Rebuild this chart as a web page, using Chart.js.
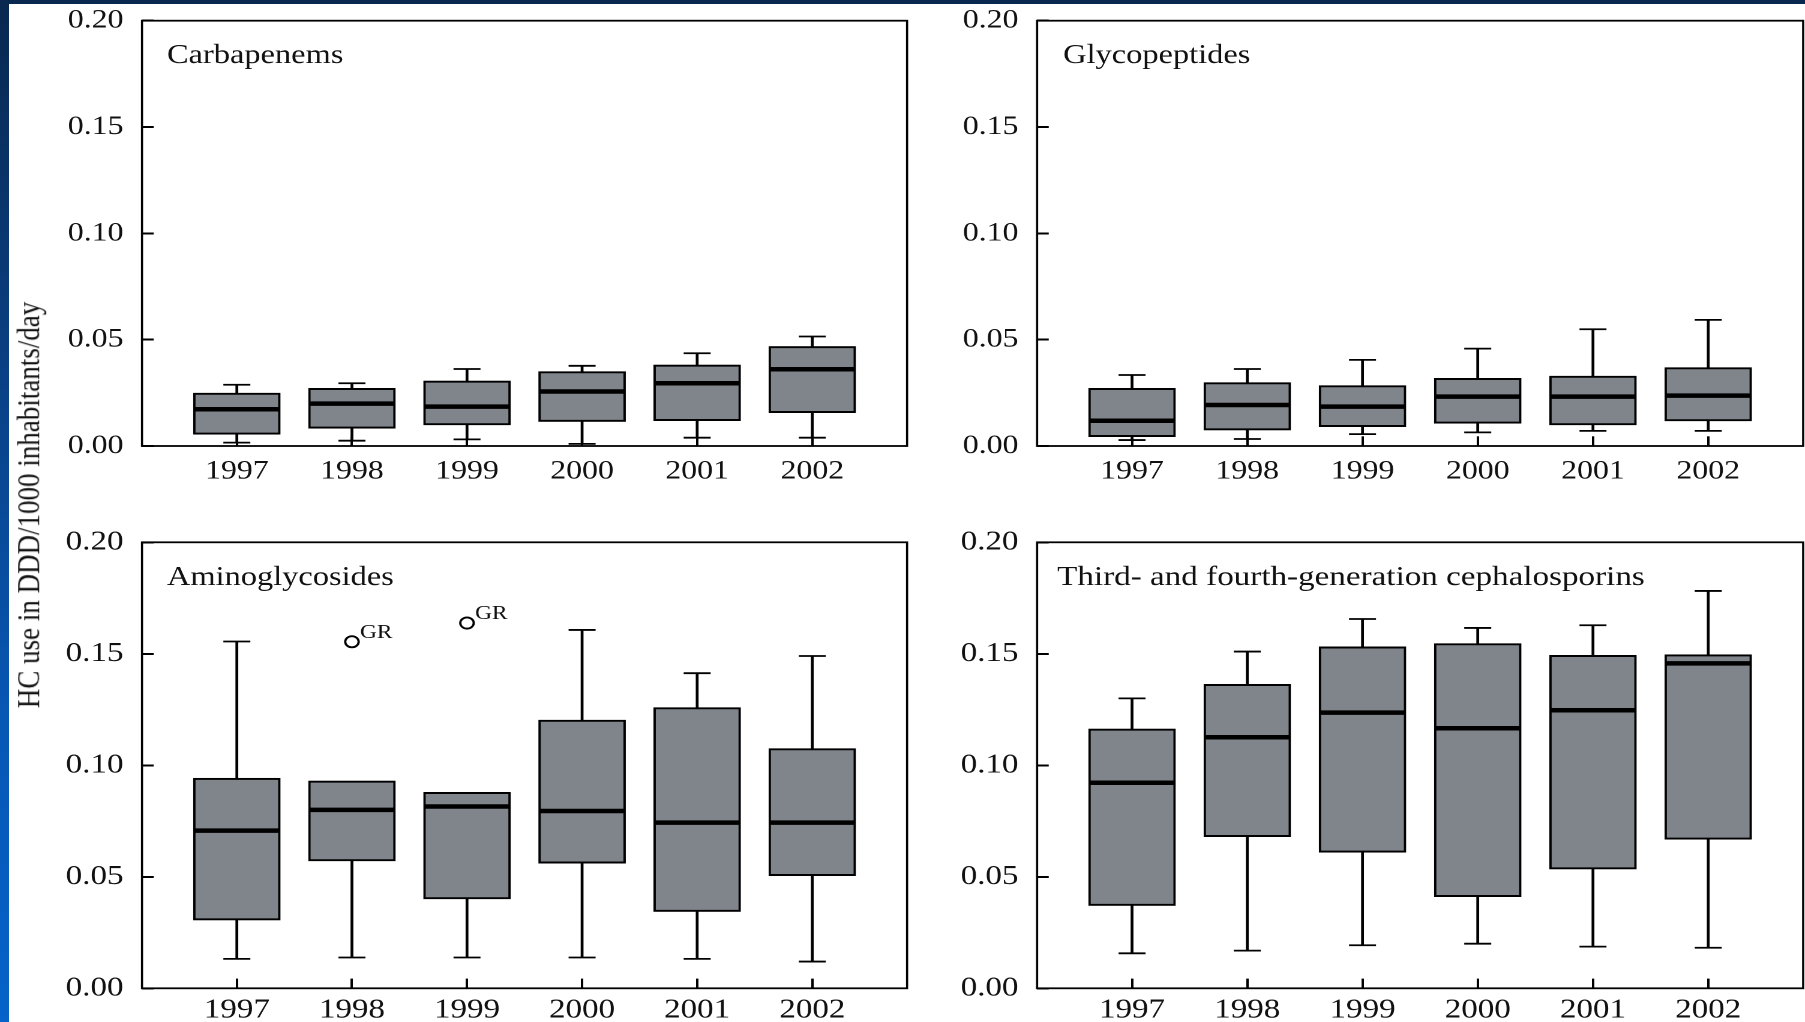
<!DOCTYPE html>
<html>
<head>
<meta charset="utf-8">
<title>Hospital antibiotic use by class, 1997–2002</title>
<script src="https://cdn.jsdelivr.net/npm/chart.js@4.4.1/dist/chart.umd.min.js"></script>
<style>
  html, body { margin: 0; padding: 0; }
  body {
    width: 1805px; height: 1022px; overflow: hidden; position: relative;
    background: linear-gradient(to bottom, #08284f 0%, #0a3f82 35%, #0757b4 70%, #0563c9 100%);
  }
  #sheet { position: absolute; left: 9px; top: 4px; right: 0; bottom: 0; background: #fff; }
  /* the figure is laid out on a 1504px-wide stage and widened to the full page */
  #stage {
    position: absolute; left: 0; top: 0; width: 1504px; height: 1022px;
    transform: scaleX(1.2001); transform-origin: 0 0;
  }
  .panel { position: absolute; }
  #ytitle {
    position: absolute; left: 24px; top: 505px;
    transform: translate(-50%, -50%) rotate(-90deg);
    font: 27px 'Liberation Serif', 'Times New Roman', serif; color: #111; white-space: nowrap;
  }
</style>
</head>
<body>
<div id="sheet"></div>
<div id="stage">
  <div class="panel" id="p1" style="left:0px;top:0px;width:790px;height:500px"><canvas id="c1"></canvas></div>
  <div class="panel" id="p2" style="left:790px;top:0px;width:714px;height:500px"><canvas id="c2"></canvas></div>
  <div class="panel" id="p3" style="left:0px;top:500px;width:790px;height:522px"><canvas id="c3"></canvas></div>
  <div class="panel" id="p4" style="left:790px;top:500px;width:714px;height:522px"><canvas id="c4"></canvas></div>
  <div id="ytitle">HC use in DDD/1000 inhabitants/day</div>
</div>
<script>
// ---- data -------------------------------------------------------------
const years = [1997, 1998, 1999, 2000, 2001, 2002];
const yTickValues = [0, 0.05, 0.10, 0.15, 0.20];

// Carbapenems
const carbaLow    = [0.0016, 0.0025, 0.0031, 0.0010, 0.0039, 0.0039];
const carbaQ1     = [0.0055, 0.0083, 0.0099, 0.0115, 0.0119, 0.0157];
const carbaMedian = [0.0173, 0.0199, 0.0185, 0.0256, 0.0295, 0.0361];
const carbaQ3     = [0.0249, 0.0271, 0.0306, 0.0350, 0.0381, 0.0468];
const carbaHigh   = [0.0288, 0.0295, 0.0362, 0.0377, 0.0436, 0.0515];

// Glycopeptides
const glycoLow    = [0.0028, 0.0033, 0.0056, 0.0064, 0.0071, 0.0071];
const glycoQ1     = [0.0044, 0.0075, 0.0091, 0.0107, 0.0099, 0.0118];
const glycoMedian = [0.0119, 0.0193, 0.0185, 0.0232, 0.0232, 0.0237];
const glycoQ3     = [0.0271, 0.0298, 0.0284, 0.0318, 0.0329, 0.0369];
const glycoHigh   = [0.0334, 0.0362, 0.0405, 0.0458, 0.0549, 0.0593];

// Aminoglycosides (1998 and 1999 have no upper whisker, only an outlier)
const aminoLow    = [0.0132, 0.0138, 0.0138, 0.0138, 0.0132, 0.0120];
const aminoQ1     = [0.0306, 0.0571, 0.0401, 0.0561, 0.0344, 0.0505];
const aminoMedian = [0.0707, 0.0800, 0.0815, 0.0795, 0.0743, 0.0743];
const aminoQ3     = [0.0942, 0.0930, 0.0879, 0.1203, 0.1259, 0.1075];
const aminoHigh   = [0.1555, null,   null,   0.1607, 0.1413, 0.1490];
const aminoOutlierYears  = [1998, 1999];
const aminoOutlierValues = [0.1554, 0.1638];
const aminoOutlierTags   = ['GR', 'GR'];

// Third- and fourth-generation cephalosporins
const cephLow    = [0.0157, 0.0169, 0.0193, 0.0200, 0.0187, 0.0182];
const cephQ1     = [0.0371, 0.0680, 0.0610, 0.0411, 0.0535, 0.0668];
const cephMedian = [0.0922, 0.1126, 0.1236, 0.1166, 0.1247, 0.1457];
const cephQ3     = [0.1163, 0.1363, 0.1531, 0.1546, 0.1493, 0.1496];
const cephHigh   = [0.1300, 0.1510, 0.1656, 0.1616, 0.1628, 0.1782];

// ---- drawing ------------------------------------------------------------
const SERIF = "'Liberation Serif', 'Times New Roman', serif";
const BOX_FILL = '#80848b';
const BOX_WIDTH = 72.25;

// frame round the plot area, panel heading and outlier superscripts
const panelDecor = {
  id: 'panelDecor',
  afterDraw(chart, args, opts) {
    const { ctx, chartArea: a } = chart;
    ctx.save();
    ctx.lineWidth = 1.8;
    ctx.strokeStyle = '#000';
    ctx.strokeRect(a.left, a.top, a.right - a.left, a.bottom - a.top);

    ctx.fillStyle = '#111';
    ctx.textAlign = 'left';
    ctx.textBaseline = 'alphabetic';
    ctx.font = `${opts.titleSize}px ${SERIF}`;
    ctx.fillText(opts.title, a.left + opts.titleDx, a.top + 42.5);

    chart.data.datasets.forEach((ds, di) => {
      if (!ds.tags) return;
      const meta = chart.getDatasetMeta(di);
      ctx.font = `19.5px ${SERIF}`;
      meta.data.forEach((pt, j) => {
        ctx.fillText(ds.tags[j], pt.x + 6.7, pt.y - 4);
      });
    });
    ctx.restore();
  }
};

function boxDatasets(low, q1, med, q3, high) {
  return [
    { // lower whiskers
      type: 'bar', grouped: false, order: 5,
      data: years.map((x, i) => ({ x, y: [low[i], q1[i]] })),
      barThickness: 1.7, backgroundColor: '#000', borderWidth: 0
    },
    { // upper whiskers
      type: 'bar', grouped: false, order: 5,
      data: years.map((x, i) => ({ x, y: high[i] == null ? null : [q3[i], high[i]] })),
      barThickness: 1.7, backgroundColor: '#000', borderWidth: 0
    },
    { // whisker caps
      type: 'line', showLine: false, order: 4,
      data: years.flatMap((x, i) => {
        const pts = [{ x, y: low[i] }];
        if (high[i] != null) pts.push({ x, y: high[i] });
        return pts;
      }),
      pointStyle: 'line', pointRadius: 11.25, pointHoverRadius: 11.25,
      pointBorderWidth: 1.8, pointBorderColor: '#000', pointBackgroundColor: '#000'
    },
    { // interquartile boxes
      type: 'bar', grouped: false, order: 3,
      data: years.map((x, i) => ({ x, y: [q1[i], q3[i]] })),
      barThickness: BOX_WIDTH, backgroundColor: BOX_FILL,
      borderColor: '#000', borderWidth: 2, borderSkipped: false
    },
    { // medians
      type: 'line', showLine: false, order: 1,
      data: years.map((x, i) => ({ x, y: med[i] })),
      pointStyle: 'line', pointRadius: 35, pointHoverRadius: 35,
      pointBorderWidth: 4.5, pointBorderColor: '#000', pointBackgroundColor: '#000'
    }
  ];
}

function makePanel(canvasId, cfg) {
  const datasets = boxDatasets(cfg.low, cfg.q1, cfg.med, cfg.q3, cfg.high);
  if (cfg.outYears) {
    datasets.push({
      type: 'line', showLine: false, order: 0,
      data: cfg.outYears.map((x, i) => ({ x, y: cfg.outValues[i] })),
      tags: cfg.outTags,
      pointStyle: 'circle', pointRadius: 5.6, pointHoverRadius: 5.6,
      pointBorderWidth: 1.9, pointBorderColor: '#000', pointBackgroundColor: '#fff'
    });
  }
  return new Chart(document.getElementById(canvasId), {
    type: 'bar',
    data: { datasets },
    plugins: [panelDecor],
    options: {
      responsive: true,
      maintainAspectRatio: false,
      devicePixelRatio: 2,
      animation: false,
      events: [],
      layout: { padding: cfg.padding, autoPadding: false },
      plugins: {
        legend: { display: false },
        tooltip: { enabled: false },
        panelDecor: { title: cfg.title, titleDx: cfg.titleDx, titleSize: cfg.titleSize }
      },
      scales: {
        x: {
          type: 'linear',
          min: 1996.176, max: 2002.824,
          offset: false,
          afterBuildTicks: s => { s.ticks = years.map(v => ({ value: v })); },
          afterFit: s => { s.height = cfg.xAxisHeight; s.paddingLeft = 0; s.paddingRight = 0; },
          ticks: {
            autoSkip: false, maxRotation: 0,
            padding: cfg.xLabelPad, color: '#111',
            font: { family: SERIF, size: cfg.tickSize },
            callback: v => String(v)
          },
          grid: {
            display: true, offset: false, drawOnChartArea: false, drawTicks: true,
            tickLength: -9.7, tickWidth: 2, tickColor: '#000'
          },
          border: { display: false }
        },
        y: {
          type: 'linear',
          min: 0, max: 0.2,
          afterBuildTicks: s => { s.ticks = yTickValues.map(v => ({ value: v })); },
          afterFit: s => { s.width = cfg.yAxisWidth; s.paddingTop = 0; s.paddingBottom = 0; },
          ticks: {
            autoSkip: false,
            padding: 25.2, color: '#111',
            font: { family: SERIF, size: cfg.tickSize },
            callback: v => v.toFixed(2)
          },
          grid: {
            display: true, drawOnChartArea: false, drawTicks: true,
            tickLength: -9.7, tickWidth: 2, tickColor: '#000'
          },
          border: { display: false }
        }
      }
    }
  });
}

makePanel('c1', {
  title: 'Carbapenems', titleDx: 20.8, titleSize: 27,
  low: carbaLow, q1: carbaQ1, med: carbaMedian, q3: carbaQ3, high: carbaHigh,
  padding: { left: 0, top: 20.7, right: 34.17, bottom: 0 },
  yAxisWidth: 118.33, xAxisHeight: 54, tickSize: 26.5, xLabelPad: 19.1
});
makePanel('c2', {
  title: 'Glycopeptides', titleDx: 21.7, titleSize: 27,
  low: glycoLow, q1: glycoQ1, med: glycoMedian, q3: glycoQ3, high: glycoHigh,
  padding: { left: 0, top: 20.7, right: 1.5, bottom: 0 },
  yAxisWidth: 74.17, xAxisHeight: 54, tickSize: 26.5, xLabelPad: 19.1
});
makePanel('c3', {
  title: 'Aminoglycosides', titleDx: 20.8, titleSize: 27,
  low: aminoLow, q1: aminoQ1, med: aminoMedian, q3: aminoQ3, high: aminoHigh,
  outYears: aminoOutlierYears, outValues: aminoOutlierValues, outTags: aminoOutlierTags,
  padding: { left: 0, top: 42.3, right: 34.17, bottom: 0 },
  yAxisWidth: 118.33, xAxisHeight: 33.7, tickSize: 27.5, xLabelPad: 15.2
});
makePanel('c4', {
  title: 'Third- and fourth-generation cephalosporins', titleDx: 16.7, titleSize: 27.6,
  low: cephLow, q1: cephQ1, med: cephMedian, q3: cephQ3, high: cephHigh,
  padding: { left: 0, top: 42.3, right: 1.5, bottom: 0 },
  yAxisWidth: 74.17, xAxisHeight: 33.7, tickSize: 27.5, xLabelPad: 15.2
});
</script>
</body>
</html>
